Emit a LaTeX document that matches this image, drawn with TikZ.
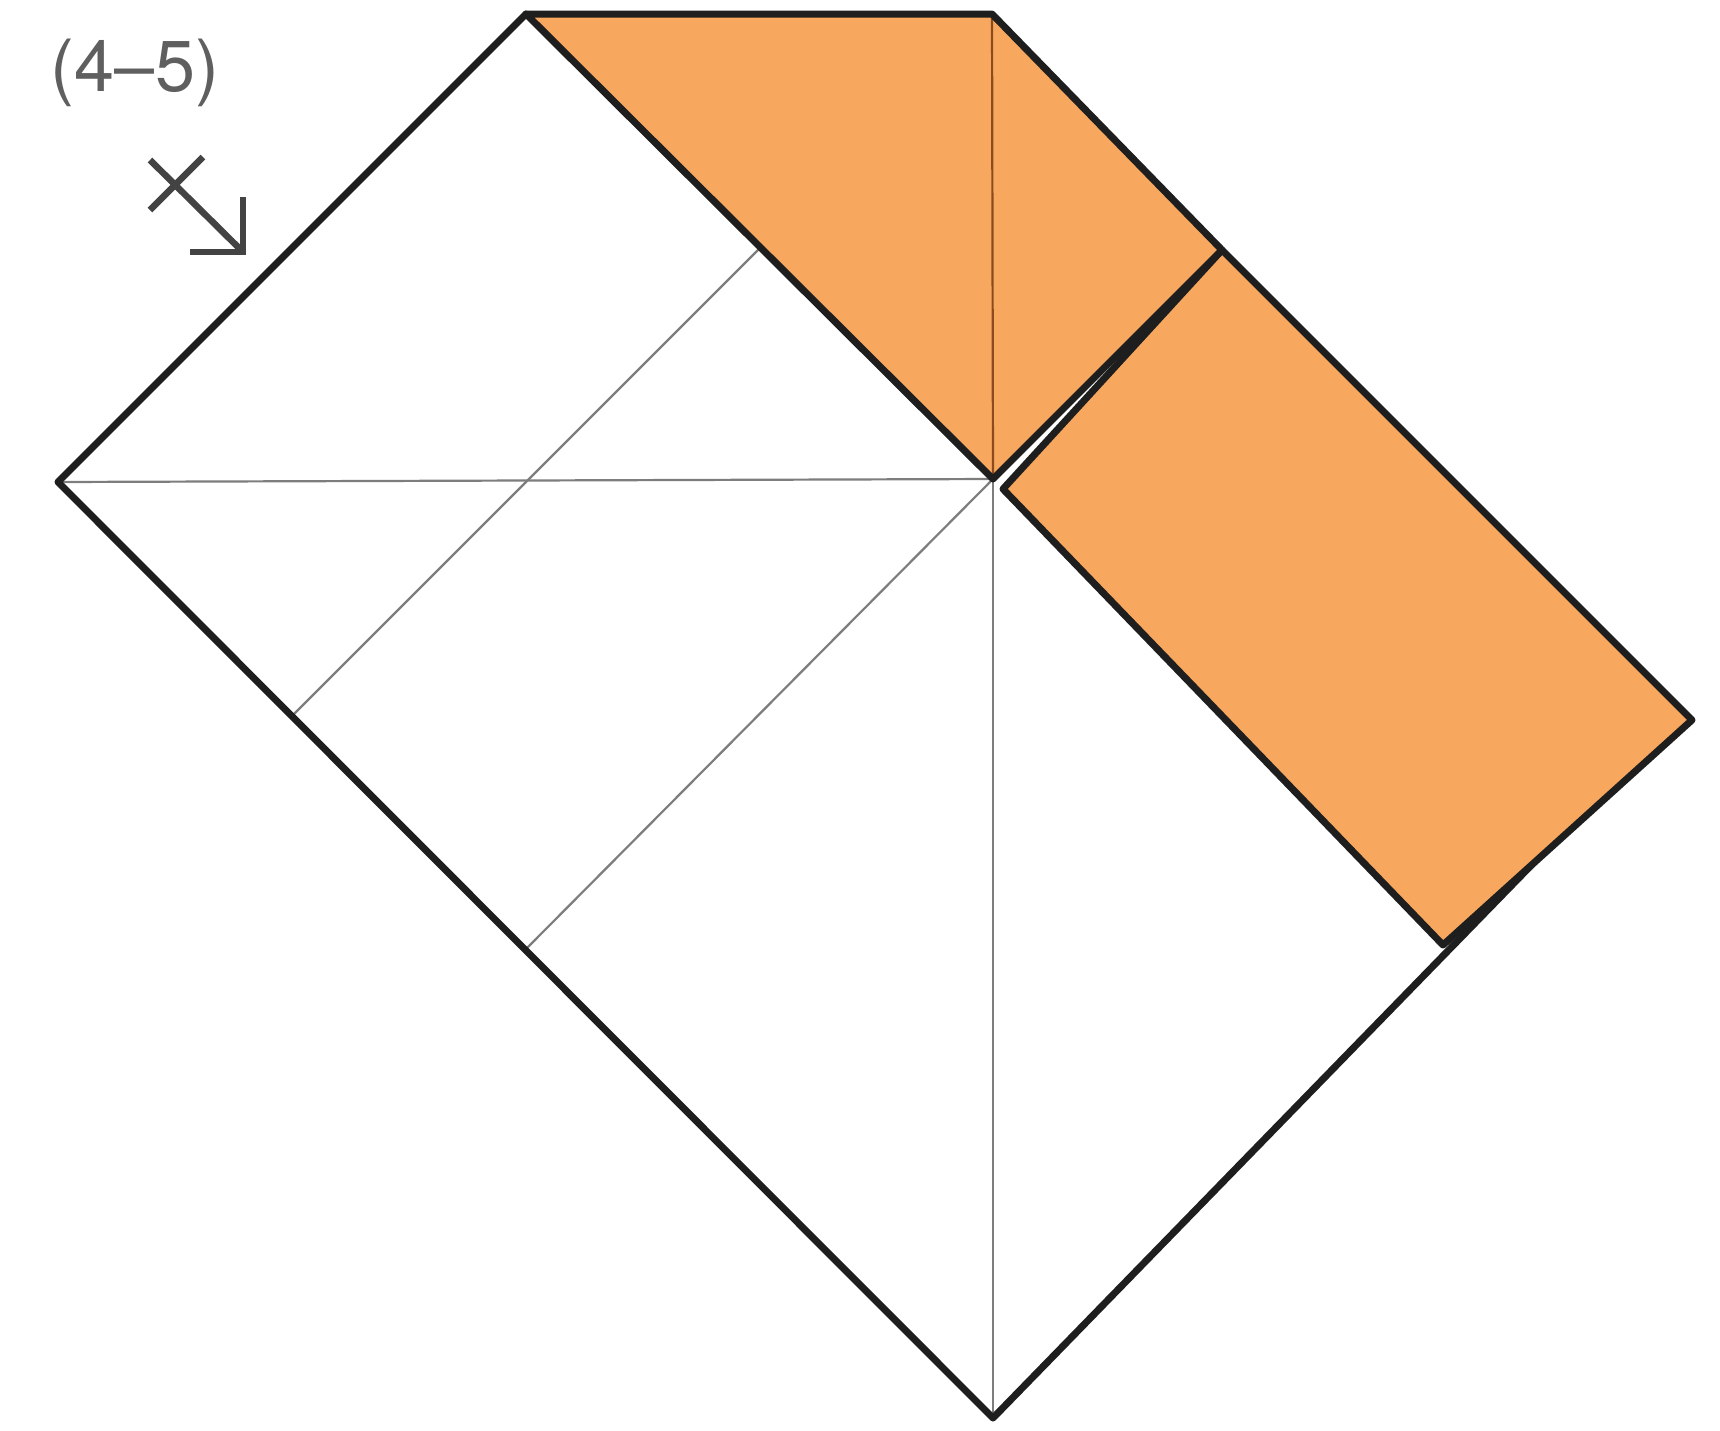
\documentclass[tikz,border=0pt]{standalone}
\usepackage{fontspec}
\setsansfont{TeX Gyre Heros}
\definecolor{paperorange}{RGB}{248,168,94}
\definecolor{outline}{RGB}{30,30,30}
\definecolor{crease}{RGB}{125,125,125}
\definecolor{orcrease}{RGB}{140,75,30}
\definecolor{labelgrey}{RGB}{95,95,95}
\begin{document}
\begin{tikzpicture}[x=1pt,y=-1pt,
  edge/.style={draw=outline,line width=7pt,line join=round,line cap=round},
  creaseline/.style={draw=crease,line width=2.2pt},
  flap/.style={fill=paperorange},
  symline/.style={draw=labelgrey!70!black,line width=6.5pt}]
\useasboundingbox (0,0) rectangle (1720,1430);
\fill[white] (0,0) rectangle (1720,1430);
% key points
\coordinate (L) at (58,482);
\coordinate (A) at (526,14);
\coordinate (B) at (992,14);
\coordinate (C) at (993,479);
\coordinate (F) at (1222,250);
\coordinate (D) at (1692,720);
\coordinate (E) at (1443,945);
\coordinate (Cp) at (1003,489);
\coordinate (Bot) at (993,1418);
\coordinate (Q1) at (292,716);
\coordinate (K) at (760,248);
\coordinate (H) at (525,950);
\coordinate (W) at (1550,846);
% creases
\draw[creaseline] (L) -- (C);
\draw[creaseline] (C) -- (Bot);
\draw[creaseline] (Q1) -- (K);
\draw[creaseline] (H) -- (C);
% white paper edges
\draw[edge] (A) -- (L) -- (Bot) -- (W);
% orange flaps
\fill[flap] (A) -- (B) -- (C) -- cycle;
\fill[flap] (B) -- (F) -- (C) -- cycle;
\fill[flap] (F) -- (D) -- (E) -- (Cp) -- cycle;
\draw[draw=orcrease,line width=2.2pt] (B) -- (C);
\draw[edge] (C) -- (A) -- (B) -- (F) -- (C);
\draw[edge] (F) -- (D) -- (E) -- (Cp) -- cycle;
% label and symbol
\node[font=\sffamily\fontsize{72}{72}\selectfont,text=labelgrey] (lbl) at (135,73) {(4–5)};
\coordinate (s1) at (150,160);
\coordinate (s2) at (243,252);
\coordinate (s3) at (150,210);
\coordinate (s4) at (203,157);
\coordinate (s5) at (243,197);
\coordinate (s6) at (190,252);
\draw[symline] (s1) -- (s2);
\draw[symline] (s3) -- (s4);
\draw[symline,line join=miter] (s5) -- (s2) -- (s6);
\end{tikzpicture}
\end{document}
